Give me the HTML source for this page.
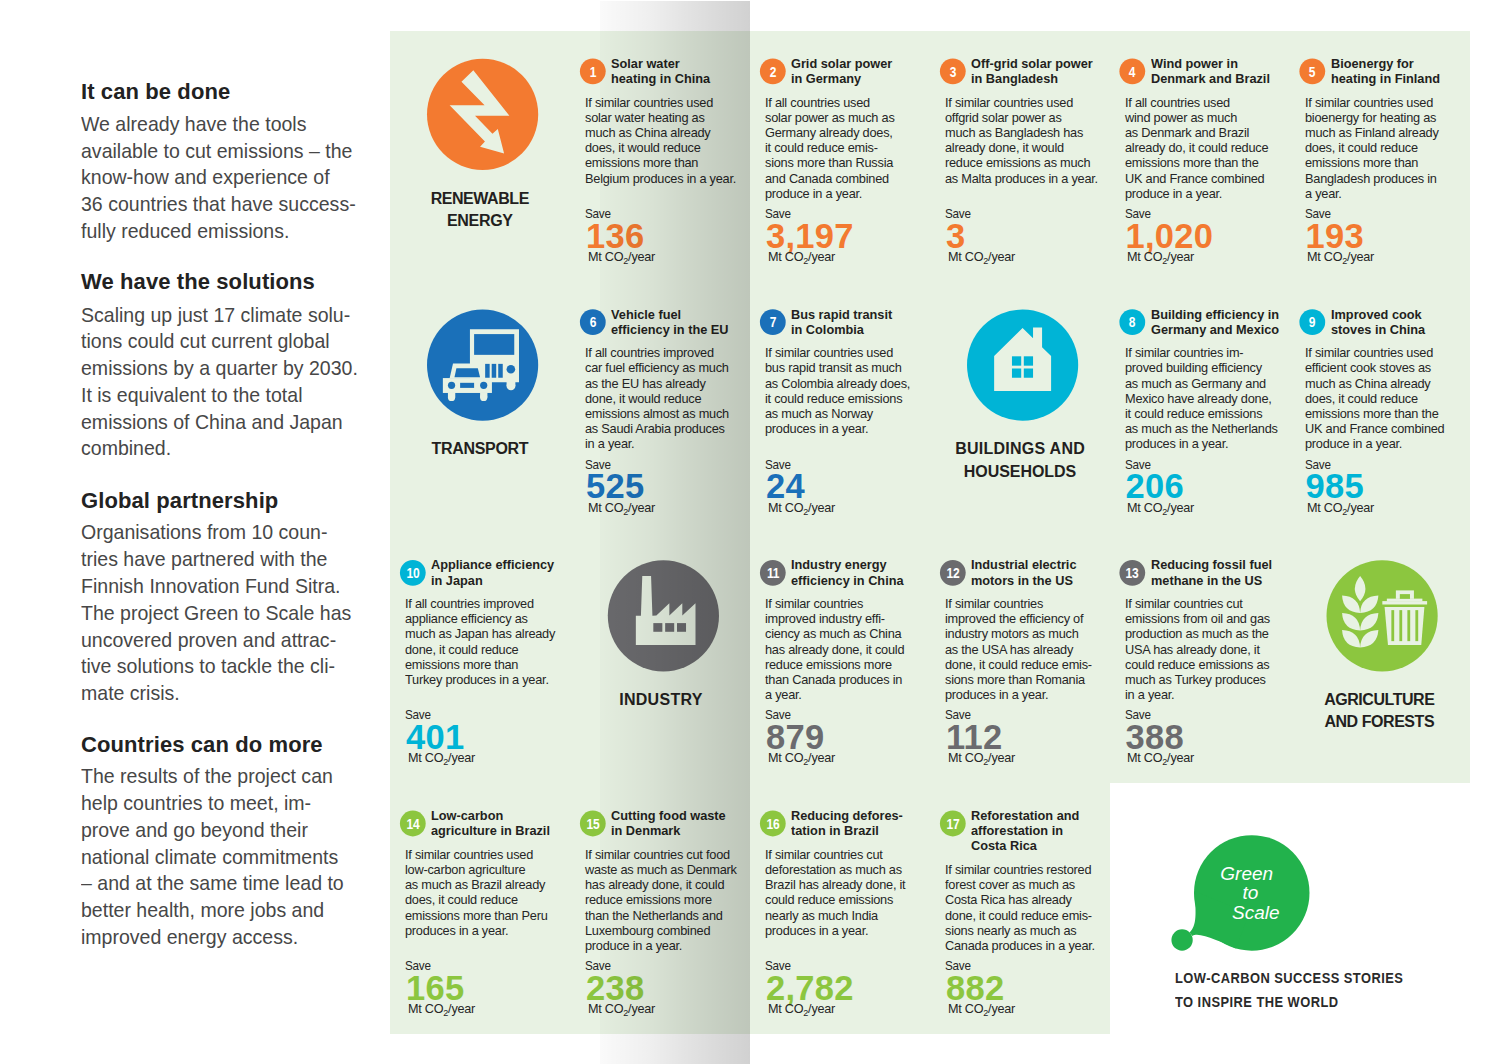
<!DOCTYPE html>
<html><head><meta charset="utf-8"><title>Green to Scale</title><style>
*{margin:0;padding:0;box-sizing:border-box}
html,body{width:1500px;height:1064px;overflow:hidden;background:#fff}
body{position:relative;font-family:"Liberation Sans",sans-serif}
.panel{position:absolute;background:#e8f2e3}
.ov{position:absolute;left:0;top:0}
.gut{position:absolute;left:600px;top:1px;width:150px;height:1063px;
background:linear-gradient(to right,rgba(0,0,0,.02) 0%,rgba(0,0,0,.04) 15%,rgba(0,0,0,.068) 35%,rgba(0,0,0,.105) 55%,rgba(0,0,0,.148) 80%,rgba(0,0,0,.18) 100%)}
div{position:absolute;white-space:nowrap}
.tt{font-size:13px;line-height:15.2px;font-weight:bold;color:#231f20;transform:scaleX(.98);transform-origin:0 0}
.bd{font-size:13.3px;line-height:15.2px;color:#262626;transform:scaleX(.96);letter-spacing:-0.25px;transform-origin:0 0}
.bd sub{font-size:9.5px;vertical-align:-2.5px;line-height:0}
.nm{font-size:34.5px;line-height:36px;font-weight:bold;letter-spacing:0.3px}
.mt{transform:scaleX(.95)}
.sv{transform:scaleX(.88)}
.cn{width:30px;height:20px;line-height:20px;text-align:center;color:#fff;font-size:15px;font-weight:bold;transform:scaleX(.8);letter-spacing:-0.3px}
.lab{width:160px;text-align:center;font-size:16px;line-height:22.3px;font-weight:bold;color:#231f20}
.lh{font-size:22px;line-height:26px;font-weight:bold;color:#222;letter-spacing:0.1px}
.lb{font-size:21px;line-height:26.78px;color:#474747;transform:scaleX(.93);transform-origin:0 0}
.lg{font-size:19px;line-height:20px;font-style:italic;color:#fff}
.tg{font-size:14px;line-height:23.4px;font-weight:bold;color:#2a2a2a;letter-spacing:0.5px;transform:scaleX(.92);transform-origin:0 0}
</style></head>
<body>
<div class="panel" style="left:390px;top:31px;width:1080px;height:752.3px"></div>
<div class="panel" style="left:390px;top:783px;width:719.5px;height:251px"></div>
<svg class="ov" width="1500" height="1064" viewBox="0 0 1500 1064"><circle cx="592.8" cy="71.3" r="12.9" fill="#f37a30"/><circle cx="772.8" cy="71.3" r="12.9" fill="#f37a30"/><circle cx="952.8" cy="71.3" r="12.9" fill="#f37a30"/><circle cx="1132.3" cy="71.3" r="12.9" fill="#f37a30"/><circle cx="1312.3" cy="71.3" r="12.9" fill="#f37a30"/><circle cx="592.8" cy="322.1" r="12.9" fill="#1a70b9"/><circle cx="772.8" cy="322.1" r="12.9" fill="#1a70b9"/><circle cx="1132.3" cy="322.1" r="12.9" fill="#00b4d6"/><circle cx="1312.3" cy="322.1" r="12.9" fill="#00b4d6"/><circle cx="412.8" cy="572.8" r="12.9" fill="#00b4d6"/><circle cx="772.8" cy="572.8" r="12.9" fill="#6b6b6e"/><circle cx="952.8" cy="572.8" r="12.9" fill="#6b6b6e"/><circle cx="1132.3" cy="572.8" r="12.9" fill="#6b6b6e"/><circle cx="412.8" cy="823.5" r="12.9" fill="#8cc63f"/><circle cx="592.8" cy="823.5" r="12.9" fill="#8cc63f"/><circle cx="772.8" cy="823.5" r="12.9" fill="#8cc63f"/><circle cx="952.8" cy="823.5" r="12.9" fill="#8cc63f"/><circle cx="482.6" cy="114.3" r="55.6" fill="#f37a30"/><circle cx="482.6" cy="365.1" r="55.6" fill="#1a70b9"/><circle cx="1022.6" cy="365.1" r="55.6" fill="#00b4d6"/><circle cx="663.4" cy="615.8" r="55.6" fill="#6b6b6e"/><circle cx="1382.1" cy="615.8" r="55.6" fill="#8cc63f"/><g transform="translate(422,54) scale(0.11277771512349159)" fill="#e8f2e3">
<polygon points="455,145 775,548 470,548 625,708 672,665 728,882 515,822 558,775 245,455 555,455 350,245"/></g><g transform="translate(422,305) scale(0.11277771512349159)">
<g fill="#e8f2e3">
<rect x="425" y="215" width="435" height="470"/>
<polygon points="245,650 275,518 430,518 430,650"/>
<rect x="185" y="648" width="435" height="132"/>
<rect x="750" y="680" width="78" height="40"/><circle cx="789" cy="718" r="39"/>
<rect x="230" y="775" width="65" height="45"/><circle cx="262" cy="820" r="32"/>
<rect x="515" y="775" width="65" height="45"/><circle cx="547" cy="820" r="32"/>
</g>
<g fill="#1a70b9">
<rect x="462" y="258" width="356" height="184"/>
<rect x="560" y="522" width="40" height="123"/><rect x="618" y="522" width="40" height="123"/><rect x="676" y="522" width="40" height="123"/>
<circle cx="788" cy="570" r="38"/>
<polygon points="305,560 495,560 515,640 288,640"/>
<circle cx="262" cy="712" r="32"/><circle cx="547" cy="712" r="32"/>
<rect x="338" y="690" width="124" height="45"/>
</g></g><g transform="translate(962,305) scale(0.11277771512349159)">
<polygon fill="#e8f2e3" points="285,452 537,203 630,295 630,200 710,200 710,375 790,452 790,762 285,762"/>
<g fill="#00b4d6"><rect x="443" y="455" width="82" height="83"/><rect x="548" y="455" width="82" height="83"/>
<rect x="443" y="563" width="82" height="82"/><rect x="548" y="563" width="82" height="82"/></g></g><g transform="translate(602.8,556) scale(0.11277771512349159)">
<polygon fill="#e8f2e3" points="350,178 428,178 440,530 475,528 590,420 590,528 705,420 705,528 822,420 822,790 293,790 293,530 338,530"/>
<g fill="#6b6b6e"><rect x="448" y="595" width="80" height="77"/><rect x="553" y="595" width="80" height="77"/><rect x="658" y="595" width="80" height="77"/></g></g><g transform="translate(1322,556) scale(0.11277771512349159)">
<g fill="#e8f2e3">
<path d="M338,178 Q432,290 338,402 Q244,290 338,178Z"/>
<path d="M178,350 Q330,355 338,505 Q186,498 178,350Z"/><path d="M500,350 Q346,355 338,505 Q490,498 500,350Z"/><path d="M178,505 Q330,510 338,660 Q186,653 178,505Z"/><path d="M500,505 Q346,510 338,660 Q490,653 500,505Z"/><path d="M178,657 Q330,662 338,812 Q186,805 178,657Z"/><path d="M500,657 Q346,662 338,812 Q490,805 500,657Z"/>
<rect x="655" y="305" width="160" height="75"/>
<rect x="575" y="378" width="315" height="25"/>
<rect x="535" y="400" width="397" height="30"/>
<polygon points="555,452 908,452 880,790 585,790"/>
</g>
<g fill="#8cc63f">
<rect x="690" y="338" width="90" height="42"/>
<rect x="615" y="480" width="25" height="275"/><rect x="686" y="480" width="25" height="275"/>
<rect x="757" y="480" width="25" height="275"/><rect x="828" y="480" width="25" height="275"/>
</g></g><g transform="translate(1160,825) scale(0.12690355329949238)" fill="#22b24c">
<circle cx="723" cy="535" r="455"/>
<circle cx="174" cy="906" r="84"/>
<path d="M272,520 C284,700 292,790 232,848 L256,874 C310,838 480,925 600,973 L700,700 Z"/>
</g></svg>
<div class="cn" style="left:577.8px;top:61.5px">1</div><div class="tt" style="left:611.0px;top:55.8px;">Solar water<br>heating in China</div><div class="bd" style="left:585.0px;top:94.5px;">If similar countries used<br>solar water heating as<br>much as China already<br>does, it would reduce<br>emissions more than<br>Belgium produces in a year.</div><div class="bd sv" style="left:585.0px;top:205.8px;">Save</div><div class="nm" style="left:586.0px;top:217.6px;color:#f37a30">136</div><div class="bd mt" style="left:587.8px;top:248.8px;">Mt CO<sub>2</sub>/year</div><div class="cn" style="left:757.8px;top:61.5px">2</div><div class="tt" style="left:791.0px;top:55.8px;">Grid solar power<br>in Germany</div><div class="bd" style="left:765.0px;top:94.5px;">If all countries used<br>solar power as much as<br>Germany already does,<br>it could reduce emis-<br>sions more than Russia<br>and Canada combined<br>produce in a year.</div><div class="bd sv" style="left:765.0px;top:205.8px;">Save</div><div class="nm" style="left:766.0px;top:217.6px;color:#f37a30">3,197</div><div class="bd mt" style="left:767.8px;top:248.8px;">Mt CO<sub>2</sub>/year</div><div class="cn" style="left:937.8px;top:61.5px">3</div><div class="tt" style="left:971.0px;top:55.8px;">Off-grid solar power<br>in Bangladesh</div><div class="bd" style="left:945.0px;top:94.5px;">If similar countries used<br>offgrid solar power as<br>much as Bangladesh has<br>already done, it would<br>reduce emissions as much<br>as Malta produces in a year.</div><div class="bd sv" style="left:945.0px;top:205.8px;">Save</div><div class="nm" style="left:946.0px;top:217.6px;color:#f37a30">3</div><div class="bd mt" style="left:947.8px;top:248.8px;">Mt CO<sub>2</sub>/year</div><div class="cn" style="left:1117.3px;top:61.5px">4</div><div class="tt" style="left:1150.5px;top:55.8px;">Wind power in<br>Denmark and Brazil</div><div class="bd" style="left:1124.5px;top:94.5px;">If all countries used<br>wind power as much<br>as Denmark and Brazil<br>already do, it could reduce<br>emissions more than the<br>UK and France combined<br>produce in a year.</div><div class="bd sv" style="left:1124.5px;top:205.8px;">Save</div><div class="nm" style="left:1125.5px;top:217.6px;color:#f37a30">1,020</div><div class="bd mt" style="left:1127.3px;top:248.8px;">Mt CO<sub>2</sub>/year</div><div class="cn" style="left:1297.3px;top:61.5px">5</div><div class="tt" style="left:1330.5px;top:55.8px;">Bioenergy for<br>heating in Finland</div><div class="bd" style="left:1304.5px;top:94.5px;">If similar countries used<br>bioenergy for heating as<br>much as Finland already<br>does, it could reduce<br>emissions more than<br>Bangladesh produces in<br>a year.</div><div class="bd sv" style="left:1304.5px;top:205.8px;">Save</div><div class="nm" style="left:1305.5px;top:217.6px;color:#f37a30">193</div><div class="bd mt" style="left:1307.3px;top:248.8px;">Mt CO<sub>2</sub>/year</div><div class="cn" style="left:577.8px;top:312.3px">6</div><div class="tt" style="left:611.0px;top:306.5px;">Vehicle fuel<br>efficiency in the EU</div><div class="bd" style="left:585.0px;top:345.2px;">If all countries improved<br>car fuel efficiency as much<br>as the EU has already<br>done, it would reduce<br>emissions almost as much<br>as Saudi Arabia produces<br>in a year.</div><div class="bd sv" style="left:585.0px;top:456.5px;">Save</div><div class="nm" style="left:586.0px;top:468.4px;color:#1a70b9">525</div><div class="bd mt" style="left:587.8px;top:499.5px;">Mt CO<sub>2</sub>/year</div><div class="cn" style="left:757.8px;top:312.3px">7</div><div class="tt" style="left:791.0px;top:306.5px;">Bus rapid transit<br>in Colombia</div><div class="bd" style="left:765.0px;top:345.2px;">If similar countries used<br>bus rapid transit as much<br>as Colombia already does,<br>it could reduce emissions<br>as much as Norway<br>produces in a year.</div><div class="bd sv" style="left:765.0px;top:456.5px;">Save</div><div class="nm" style="left:766.0px;top:468.4px;color:#1a70b9">24</div><div class="bd mt" style="left:767.8px;top:499.5px;">Mt CO<sub>2</sub>/year</div><div class="cn" style="left:1117.3px;top:312.3px">8</div><div class="tt" style="left:1150.5px;top:306.5px;">Building efficiency in<br>Germany and Mexico</div><div class="bd" style="left:1124.5px;top:345.2px;">If similar countries im-<br>proved building efficiency<br>as much as Germany and<br>Mexico have already done,<br>it could reduce emissions<br>as much as the Netherlands<br>produces in a year.</div><div class="bd sv" style="left:1124.5px;top:456.5px;">Save</div><div class="nm" style="left:1125.5px;top:468.4px;color:#00b4d6">206</div><div class="bd mt" style="left:1127.3px;top:499.5px;">Mt CO<sub>2</sub>/year</div><div class="cn" style="left:1297.3px;top:312.3px">9</div><div class="tt" style="left:1330.5px;top:306.5px;">Improved cook<br>stoves in China</div><div class="bd" style="left:1304.5px;top:345.2px;">If similar countries used<br>efficient cook stoves as<br>much as China already<br>does, it could reduce<br>emissions more than the<br>UK and France combined<br>produce in a year.</div><div class="bd sv" style="left:1304.5px;top:456.5px;">Save</div><div class="nm" style="left:1305.5px;top:468.4px;color:#00b4d6">985</div><div class="bd mt" style="left:1307.3px;top:499.5px;">Mt CO<sub>2</sub>/year</div><div class="cn" style="left:397.8px;top:563.0px">10</div><div class="tt" style="left:431.0px;top:557.3px;">Appliance efficiency<br>in Japan</div><div class="bd" style="left:405.0px;top:596.0px;">If all countries improved<br>appliance efficiency as<br>much as Japan has already<br>done, it could reduce<br>emissions more than<br>Turkey produces in a year.</div><div class="bd sv" style="left:405.0px;top:707.3px;">Save</div><div class="nm" style="left:406.0px;top:719.1px;color:#00b4d6">401</div><div class="bd mt" style="left:407.8px;top:750.3px;">Mt CO<sub>2</sub>/year</div><div class="cn" style="left:757.8px;top:563.0px">11</div><div class="tt" style="left:791.0px;top:557.3px;">Industry energy<br>efficiency in China</div><div class="bd" style="left:765.0px;top:596.0px;">If similar countries<br>improved industry effi-<br>ciency as much as China<br>has already done, it could<br>reduce emissions more<br>than Canada produces in<br>a year.</div><div class="bd sv" style="left:765.0px;top:707.3px;">Save</div><div class="nm" style="left:766.0px;top:719.1px;color:#6b6b6e">879</div><div class="bd mt" style="left:767.8px;top:750.3px;">Mt CO<sub>2</sub>/year</div><div class="cn" style="left:937.8px;top:563.0px">12</div><div class="tt" style="left:971.0px;top:557.3px;">Industrial electric<br>motors in the US</div><div class="bd" style="left:945.0px;top:596.0px;">If similar countries<br>improved the efficiency of<br>industry motors as much<br>as the USA has already<br>done, it could reduce emis-<br>sions more than Romania<br>produces in a year.</div><div class="bd sv" style="left:945.0px;top:707.3px;">Save</div><div class="nm" style="left:946.0px;top:719.1px;color:#6b6b6e">112</div><div class="bd mt" style="left:947.8px;top:750.3px;">Mt CO<sub>2</sub>/year</div><div class="cn" style="left:1117.3px;top:563.0px">13</div><div class="tt" style="left:1150.5px;top:557.3px;">Reducing fossil fuel<br>methane in the US</div><div class="bd" style="left:1124.5px;top:596.0px;">If similar countries cut<br>emissions from oil and gas<br>production as much as the<br>USA has already done, it<br>could reduce emissions as<br>much as Turkey produces<br>in a year.</div><div class="bd sv" style="left:1124.5px;top:707.3px;">Save</div><div class="nm" style="left:1125.5px;top:719.1px;color:#6b6b6e">388</div><div class="bd mt" style="left:1127.3px;top:750.3px;">Mt CO<sub>2</sub>/year</div><div class="cn" style="left:397.8px;top:813.8px">14</div><div class="tt" style="left:431.0px;top:808.0px;">Low-carbon<br>agriculture in Brazil</div><div class="bd" style="left:405.0px;top:846.7px;">If similar countries used<br>low-carbon agriculture<br>as much as Brazil already<br>does, it could reduce<br>emissions more than Peru<br>produces in a year.</div><div class="bd sv" style="left:405.0px;top:958.0px;">Save</div><div class="nm" style="left:406.0px;top:969.9px;color:#8cc63f">165</div><div class="bd mt" style="left:407.8px;top:1001.0px;">Mt CO<sub>2</sub>/year</div><div class="cn" style="left:577.8px;top:813.8px">15</div><div class="tt" style="left:611.0px;top:808.0px;">Cutting food waste<br>in Denmark</div><div class="bd" style="left:585.0px;top:846.7px;">If similar countries cut food<br>waste as much as Denmark<br>has already done, it could<br>reduce emissions more<br>than the Netherlands and<br>Luxembourg combined<br>produce in a year.</div><div class="bd sv" style="left:585.0px;top:958.0px;">Save</div><div class="nm" style="left:586.0px;top:969.9px;color:#8cc63f">238</div><div class="bd mt" style="left:587.8px;top:1001.0px;">Mt CO<sub>2</sub>/year</div><div class="cn" style="left:757.8px;top:813.8px">16</div><div class="tt" style="left:791.0px;top:808.0px;">Reducing defores-<br>tation in Brazil</div><div class="bd" style="left:765.0px;top:846.7px;">If similar countries cut<br>deforestation as much as<br>Brazil has already done, it<br>could reduce emissions<br>nearly as much India<br>produces in a year.</div><div class="bd sv" style="left:765.0px;top:958.0px;">Save</div><div class="nm" style="left:766.0px;top:969.9px;color:#8cc63f">2,782</div><div class="bd mt" style="left:767.8px;top:1001.0px;">Mt CO<sub>2</sub>/year</div><div class="cn" style="left:937.8px;top:813.8px">17</div><div class="tt" style="left:971.0px;top:808.0px;">Reforestation and<br>afforestation in<br>Costa Rica</div><div class="bd" style="left:945.0px;top:861.9px;">If similar countries restored<br>forest cover as much as<br>Costa Rica has already<br>done, it could reduce emis-<br>sions nearly as much as<br>Canada produces in a year.</div><div class="bd sv" style="left:945.0px;top:958.0px;">Save</div><div class="nm" style="left:946.0px;top:969.9px;color:#8cc63f">882</div><div class="bd mt" style="left:947.8px;top:1001.0px;">Mt CO<sub>2</sub>/year</div><div class="lab" style="left:400.0px;top:187.5px"><span style="letter-spacing:-0.45px;margin-right:0.45px">RENEWABLE</span><br><span style="letter-spacing:-0.3px;margin-right:0.3px">ENERGY</span></div><div class="lab" style="left:400.0px;top:438.3px"><span style="letter-spacing:-0.3px;margin-right:0.3px">TRANSPORT</span></div><div class="lab" style="left:940.0px;top:438.3px"><span style="letter-spacing:0.25px;margin-right:-0.25px">BUILDINGS AND</span><br><span style="letter-spacing:-0.05px;margin-right:0.05px">HOUSEHOLDS</span></div><div class="lab" style="left:580.8px;top:689.0px"><span style="letter-spacing:0.3px;margin-right:-0.3px">INDUSTRY</span></div><div class="lab" style="left:1299.5px;top:689.0px"><span style="letter-spacing:-0.45px;margin-right:0.45px">AGRICULTURE</span><br><span style="letter-spacing:-0.45px;margin-right:0.45px">AND FORESTS</span></div>
<div class="lh" style="left:81px;top:78.9px">It can be done</div><div class="lb" style="left:81px;top:110.8px">We already have the tools<br>available to cut emissions – the<br>know-how and experience of<br>36 countries that have success-<br>fully reduced emissions.</div><div class="lh" style="left:81px;top:269.4px">We have the solutions</div><div class="lb" style="left:81px;top:301.5px">Scaling up just 17 climate solu-<br>tions could cut current global<br>emissions by a quarter by 2030.<br>It is equivalent to the total<br>emissions of China and Japan<br>combined.</div><div class="lh" style="left:81px;top:487.7px">Global partnership</div><div class="lb" style="left:81px;top:519.4px">Organisations from 10 coun-<br>tries have partnered with the<br>Finnish Innovation Fund Sitra.<br>The project Green to Scale has<br>uncovered proven and attrac-<br>tive solutions to tackle the cli-<br>mate crisis.</div><div class="lh" style="left:81px;top:731.7px">Countries can do more</div><div class="lb" style="left:81px;top:763.2px">The results of the project can<br>help countries to meet, im-<br>prove and go beyond their<br>national climate commitments<br>– and at the same time lead to<br>better health, more jobs and<br>improved energy access.</div>
<div class="lg" style="left:1220.3px;top:864.2px">Green</div><div class="lg" style="left:1242.5px;top:883.0px">to</div><div class="lg" style="left:1232.0px;top:902.8px">Scale</div>
<div class="tg" style="left:1174.6px;top:967.1px">LOW-CARBON SUCCESS STORIES<br>TO INSPIRE THE WORLD</div>
<div class="gut"></div>
</body></html>
